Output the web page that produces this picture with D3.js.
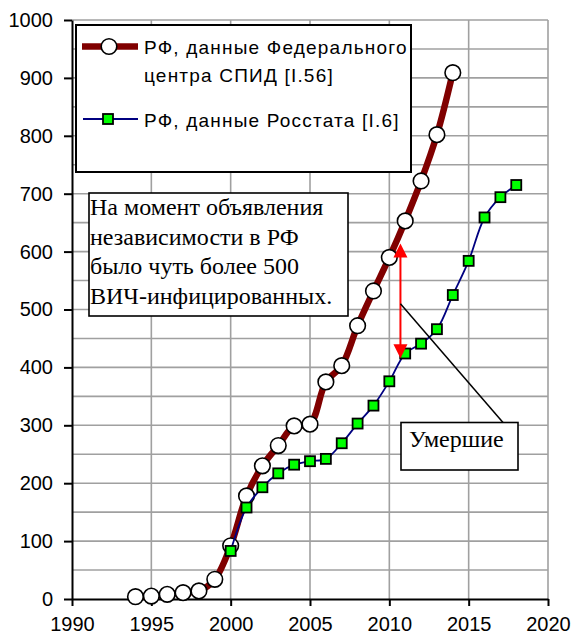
<!DOCTYPE html>
<html>
<head>
<meta charset="utf-8">
<script src="https://cdn.jsdelivr.net/npm/d3@7"></script>
<style>
  body { margin: 0; background: #fff; }
  .axis text { font-family: "Liberation Sans", Arial, sans-serif; font-size: 20px; fill: #000; }
  .axis path, .axis line { stroke: #000; stroke-width: 2; }
  .grid line { stroke: #a0a0a0; stroke-width: 1.6; }
  .legend text { font-family: "Liberation Sans", Arial, sans-serif; font-size: 19px; letter-spacing: 1.2px; }
  .note text { font-family: "Liberation Serif", "Times New Roman", serif; font-size: 24px; }
</style>
</head>
<body>
<script>
// Data
var fedYears = [1994, 1995, 1996, 1997, 1998, 1999, 2000, 2001, 2002, 2003, 2004,
                2005, 2006, 2007, 2008, 2009, 2010, 2011, 2012, 2013, 2014];
var fedValues = [4, 5, 8, 11, 14, 34, 92, 178, 230, 265, 299,
                 302, 375, 403, 472, 532, 590, 653, 722, 802, 909];

var rosYears = [2000, 2001, 2002, 2003, 2004, 2005, 2006, 2007, 2008, 2009,
                2010, 2011, 2012, 2013, 2014, 2015, 2016, 2017, 2018];
var rosValues = [83, 158, 193, 217, 232, 238, 242, 269, 303, 334,
                 376, 424, 441, 466, 525, 584, 659, 694, 715];

var xTicks = [1990, 1995, 2000, 2005, 2010, 2015, 2020];
var yTicks = [0, 100, 200, 300, 400, 500, 600, 700, 800, 900, 1000];
var yGrid = d3.range(50, 1001, 50);

var legendLabels = [["РФ, данные Федерального", "центра СПИД [I.56]"],
                    ["РФ, данные Росстата [I.6]"]];
var noteLines = ["На момент объявления", "независимости в РФ",
                 "было чуть более 500", "ВИЧ-инфицированных."];
var deathLabel = "Умершие";

window.onload = function() {
  drawChart();
};

function drawChart() {
  var width = 573;
  var height = 635;

  var svg = d3.select("body")
              .append("svg")
              .attr("width", width)
              .attr("height", height);

  var x = d3.scaleLinear().domain([1990, 2020]).range([72, 548]);
  var y = d3.scaleLinear().domain([0, 1000]).range([599, 20]);

  // Grid
  var grid = svg.append("g").attr("class", "grid");
  grid.selectAll(".h")
      .data(yGrid)
      .enter()
      .append("line")
      .attr("x1", x(1990)).attr("x2", x(2020))
      .attr("y1", function(d) { return y(d); })
      .attr("y2", function(d) { return y(d); });
  grid.selectAll(".v")
      .data(xTicks.slice(1))
      .enter()
      .append("line")
      .attr("y1", y(0)).attr("y2", y(1000))
      .attr("x1", function(d) { return x(d); })
      .attr("x2", function(d) { return x(d); });

  // Axes
  svg.append("g")
     .attr("class", "axis")
     .attr("transform", "translate(" + x(1990) + ",0)")
     .call(d3.axisLeft(y).tickValues(yTicks).tickFormat(d3.format("d"))
             .tickSize(8).tickSizeOuter(0).tickPadding(11));

  svg.append("g")
     .attr("class", "axis")
     .attr("transform", "translate(0," + y(0) + ")")
     .call(d3.axisBottom(x).tickValues(xTicks).tickFormat(d3.format("d"))
             .tickSize(7).tickSizeOuter(0).tickPadding(11));

  // Series 1: Federal AIDS centre
  var line = d3.line()
               .x(function(d) { return x(d[0]); })
               .y(function(d) { return y(d[1]); })
               .curve(d3.curveCatmullRom);

  var fed = d3.zip(fedYears, fedValues);
  var ros = d3.zip(rosYears, rosValues);

  svg.append("path")
     .datum(fed)
     .attr("d", line)
     .attr("fill", "none")
     .attr("stroke", "#800000")
     .attr("stroke-width", 6.5);

  svg.selectAll(".fedPt")
     .data(fed)
     .enter()
     .append("circle")
     .attr("cx", function(d) { return x(d[0]); })
     .attr("cy", function(d) { return y(d[1]); })
     .attr("r", 7.8)
     .attr("fill", "#fff")
     .attr("stroke", "#000")
     .attr("stroke-width", 1.6);

  // Series 2: Rosstat
  svg.append("path")
     .datum(ros)
     .attr("d", line)
     .attr("fill", "none")
     .attr("stroke", "#000080")
     .attr("stroke-width", 1.8);

  svg.selectAll(".rosPt")
     .data(ros)
     .enter()
     .append("rect")
     .attr("x", function(d) { return x(d[0]) - 5; })
     .attr("y", function(d) { return y(d[1]) - 5; })
     .attr("width", 10)
     .attr("height", 10)
     .attr("fill", "#00ff00")
     .attr("stroke", "#000")
     .attr("stroke-width", 1.8);

  // Legend
  var legend = svg.append("g").attr("class", "legend");
  legend.append("rect")
        .attr("x", 76).attr("y", 25)
        .attr("width", 335).attr("height", 147)
        .attr("fill", "#fff")
        .attr("stroke", "#000")
        .attr("stroke-width", 2);
  legend.append("line")
        .attr("x1", 82).attr("x2", 138).attr("y1", 46.5).attr("y2", 46.5)
        .attr("stroke", "#800000").attr("stroke-width", 6.5);
  legend.append("circle")
        .attr("cx", 109).attr("cy", 46.5).attr("r", 7.8)
        .attr("fill", "#fff").attr("stroke", "#000").attr("stroke-width", 1.6);
  legend.append("line")
        .attr("x1", 83).attr("x2", 138).attr("y1", 119).attr("y2", 119)
        .attr("stroke", "#000080").attr("stroke-width", 1.8);
  legend.append("rect")
        .attr("x", 103).attr("y", 114).attr("width", 10).attr("height", 10)
        .attr("fill", "#00ff00").attr("stroke", "#000").attr("stroke-width", 1.8);
  legend.append("text")
        .attr("x", 144).attr("y", 54)
        .selectAll("tspan")
        .data(legendLabels[0])
        .enter()
        .append("tspan")
        .attr("x", 144)
        .attr("dy", function(d, i) { return i == 0 ? 0 : 28; })
        .text(function(d) { return d; });
  legend.append("text")
        .attr("x", 144).attr("y", 127)
        .text(legendLabels[1][0]);

  // Note box
  var note = svg.append("g").attr("class", "note");
  note.append("rect")
      .attr("x", 89).attr("y", 193)
      .attr("width", 259).attr("height", 123)
      .attr("fill", "#fff").attr("stroke", "#000").attr("stroke-width", 1.6);
  note.append("text")
      .attr("y", 215)
      .selectAll("tspan")
      .data(noteLines)
      .enter()
      .append("tspan")
      .attr("x", 90)
      .attr("dy", function(d, i) { return i == 0 ? 0 : 29.7; })
      .text(function(d) { return d; });

  // Red double arrow (difference = deaths)
  var ax = x(2010.7);
  var top = y(614), bottom = y(416);
  svg.append("line")
     .attr("x1", ax).attr("x2", ax)
     .attr("y1", top + 10).attr("y2", bottom - 10)
     .attr("stroke", "#ff0000").attr("stroke-width", 2);
  svg.append("path")
     .attr("d", "M" + ax + "," + top + "L" + (ax - 7) + "," + (top + 14) + "L" + (ax + 7) + "," + (top + 14) + "Z")
     .attr("fill", "#ff0000");
  svg.append("path")
     .attr("d", "M" + ax + "," + bottom + "L" + (ax - 7) + "," + (bottom - 14) + "L" + (ax + 7) + "," + (bottom - 14) + "Z")
     .attr("fill", "#ff0000");

  // Callout "Умершие"
  svg.append("line")
     .attr("x1", ax).attr("y1", y(510))
     .attr("x2", 503).attr("y2", 422.5)
     .attr("stroke", "#000").attr("stroke-width", 1.5);
  var callout = svg.append("g").attr("class", "note");
  callout.append("rect")
         .attr("x", 401).attr("y", 422.5)
         .attr("width", 117).attr("height", 47.5)
         .attr("fill", "#fff").attr("stroke", "#000").attr("stroke-width", 1.6);
  callout.append("text")
         .attr("x", 409).attr("y", 447)
         .text(deathLabel);
};
</script>
</body>
</html>
